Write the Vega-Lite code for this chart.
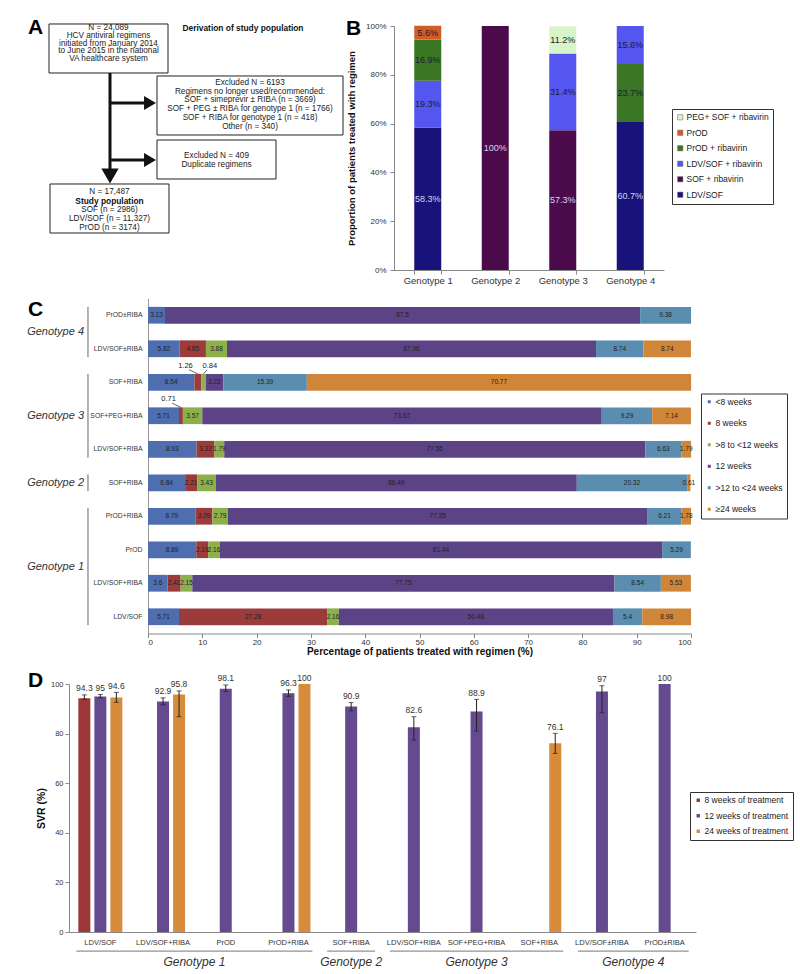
{
  "$schema": "https://vega.github.io/schema/vega-lite/v6.json",
  "background": "white",
  "padding": {"left": 27, "top": 17, "right": 5, "bottom": 5},
  "spacing": 13.5,
  "columns": 1,
  "align": "none",
  "resolve": {"scale": {"color": "independent"}, "legend": {"color": "independent"}},
  "config": {
    "font": "Liberation Sans",
    "view": {"stroke": null},
    "axis": {"grid": false, "labelColor": "#333", "titleColor": "#111", "domainColor": "#888", "tickColor": "#888"},
    "legend": {"labelColor": "#222", "strokeColor": "#333", "fillColor": "white", "symbolType": "square", "labelOffset": 3}
  },
  "datasets": {
    "boxes": [
      {"x0": 0, "x1": 40.07, "y0": -0.82, "y1": 19.26},
      {"x0": 36.36, "x1": 98.99, "y0": 20.49, "y1": 44.67},
      {"x0": 36.36, "x1": 76.43, "y0": 46.72, "y1": 62.7},
      {"x0": 0.34, "x1": 40.4, "y0": 64.75, "y1": 84.84}
    ],
    "atext": [
      {"t": "N = 24,089", "x": 20.03, "y": 0.7},
      {"t": "HCV antiviral regimens", "x": 20.03, "y": 3.9},
      {"t": "initiated from January 2014", "x": 20.03, "y": 7.2},
      {"t": "to June 2015 in the national", "x": 20.03, "y": 10.3},
      {"t": "VA healthcare system", "x": 20.03, "y": 13.4},
      {"t": "Derivation of study population", "x": 65.32, "y": 0.82},
      {"t": "Excluded N = 6193", "x": 67.68, "y": 23.24},
      {"t": "Regimens no longer used/recommended:", "x": 67.68, "y": 26.93},
      {"t": "SOF + simeprevir ± RIBA (n = 3669)", "x": 67.68, "y": 30.45},
      {"t": "SOF + PEG ± RIBA for genotype 1 (n = 1766)", "x": 67.68, "y": 33.89},
      {"t": "SOF + RIBA for genotype 1 (n = 418)", "x": 67.68, "y": 37.58},
      {"t": "Other (n = 340)", "x": 67.68, "y": 41.39},
      {"t": "Excluded N = 409", "x": 56.4, "y": 53.28},
      {"t": "Duplicate regimens", "x": 56.4, "y": 56.97},
      {"t": "N = 17,487", "x": 20.37, "y": 68.03},
      {"t": "Study population", "x": 20.37, "y": 71.72},
      {"t": "SOF (n = 2986)", "x": 20.37, "y": 75.41},
      {"t": "LDV/SOF (n = 11,327)", "x": 20.37, "y": 79.1},
      {"t": "PrOD (n = 3174)", "x": 20.37, "y": 82.79}
    ],
    "shafts": [
      {"x0": 20.54, "x1": 20.54, "y0": 19.26, "y1": 59.43},
      {"x0": 20.54, "x1": 32.66, "y0": 31.56, "y1": 31.56},
      {"x0": 20.54, "x1": 32.66, "y0": 54.92, "y1": 54.92}
    ],
    "heads": [
      {"dir": "down", "x": 20.54, "y": 61.48},
      {"dir": "right", "x": 34.01, "y": 31.56},
      {"dir": "right", "x": 34.01, "y": 54.92}
    ],
    "letters": [
      {"t": "A", "x": -7.07, "y": 0.9},
      {"t": "B", "x": 100.0, "y": 1.23}
    ],
    "regB": [
      {"geno": "Genotype 1", "reg": "LDV/SOF", "p": 58.3},
      {"geno": "Genotype 1", "reg": "LDV/SOF + ribavirin", "p": 19.3},
      {"geno": "Genotype 1", "reg": "PrOD + ribavirin", "p": 16.9},
      {"geno": "Genotype 1", "reg": "PrOD", "p": 5.6},
      {"geno": "Genotype 2", "reg": "SOF + ribavirin", "p": 100},
      {"geno": "Genotype 3", "reg": "SOF + ribavirin", "p": 57.3},
      {"geno": "Genotype 3", "reg": "LDV/SOF + ribavirin", "p": 31.4},
      {"geno": "Genotype 3", "reg": "PEG+ SOF + ribavirin", "p": 11.2},
      {"geno": "Genotype 4", "reg": "LDV/SOF", "p": 60.7},
      {"geno": "Genotype 4", "reg": "PrOD + ribavirin", "p": 23.7},
      {"geno": "Genotype 4", "reg": "LDV/SOF + ribavirin", "p": 15.6}
    ],
    "dur": [
      {"geno": "Genotype 4", "reg": "PrOD±RIBA", "row": 1, "dur": "<8 weeks", "v": 3.13},
      {"geno": "Genotype 4", "reg": "PrOD±RIBA", "row": 1, "dur": "12 weeks", "v": 87.5},
      {"geno": "Genotype 4", "reg": "PrOD±RIBA", "row": 1, "dur": ">12 to <24 weeks", "v": 9.38},
      {"geno": "Genotype 4", "reg": "LDV/SOF±RIBA", "row": 2, "dur": "<8 weeks", "v": 5.82},
      {"geno": "Genotype 4", "reg": "LDV/SOF±RIBA", "row": 2, "dur": "8 weeks", "v": 4.85},
      {"geno": "Genotype 4", "reg": "LDV/SOF±RIBA", "row": 2, "dur": ">8 to <12 weeks", "v": 3.88},
      {"geno": "Genotype 4", "reg": "LDV/SOF±RIBA", "row": 2, "dur": "12 weeks", "v": 67.96},
      {"geno": "Genotype 4", "reg": "LDV/SOF±RIBA", "row": 2, "dur": ">12 to <24 weeks", "v": 8.74},
      {"geno": "Genotype 4", "reg": "LDV/SOF±RIBA", "row": 2, "dur": "≥24 weeks", "v": 8.74},
      {"geno": "Genotype 3", "reg": "SOF+RIBA", "row": 3, "dur": "<8 weeks", "v": 8.54},
      {"geno": "Genotype 3", "reg": "SOF+RIBA", "row": 3, "dur": "8 weeks", "v": 1.26},
      {"geno": "Genotype 3", "reg": "SOF+RIBA", "row": 3, "dur": ">8 to <12 weeks", "v": 0.84},
      {"geno": "Genotype 3", "reg": "SOF+RIBA", "row": 3, "dur": "12 weeks", "v": 3.22},
      {"geno": "Genotype 3", "reg": "SOF+RIBA", "row": 3, "dur": ">12 to <24 weeks", "v": 15.39},
      {"geno": "Genotype 3", "reg": "SOF+RIBA", "row": 3, "dur": "≥24 weeks", "v": 70.77},
      {"geno": "Genotype 3", "reg": "SOF+PEG+RIBA", "row": 4, "dur": "<8 weeks", "v": 5.71},
      {"geno": "Genotype 3", "reg": "SOF+PEG+RIBA", "row": 4, "dur": "8 weeks", "v": 0.71},
      {"geno": "Genotype 3", "reg": "SOF+PEG+RIBA", "row": 4, "dur": ">8 to <12 weeks", "v": 3.57},
      {"geno": "Genotype 3", "reg": "SOF+PEG+RIBA", "row": 4, "dur": "12 weeks", "v": 73.57},
      {"geno": "Genotype 3", "reg": "SOF+PEG+RIBA", "row": 4, "dur": ">12 to <24 weeks", "v": 9.29},
      {"geno": "Genotype 3", "reg": "SOF+PEG+RIBA", "row": 4, "dur": "≥24 weeks", "v": 7.14},
      {"geno": "Genotype 3", "reg": "LDV/SOF+RIBA", "row": 5, "dur": "<8 weeks", "v": 8.93},
      {"geno": "Genotype 3", "reg": "LDV/SOF+RIBA", "row": 5, "dur": "8 weeks", "v": 3.32},
      {"geno": "Genotype 3", "reg": "LDV/SOF+RIBA", "row": 5, "dur": ">8 to <12 weeks", "v": 1.79},
      {"geno": "Genotype 3", "reg": "LDV/SOF+RIBA", "row": 5, "dur": "12 weeks", "v": 77.55},
      {"geno": "Genotype 3", "reg": "LDV/SOF+RIBA", "row": 5, "dur": ">12 to <24 weeks", "v": 6.63},
      {"geno": "Genotype 3", "reg": "LDV/SOF+RIBA", "row": 5, "dur": "≥24 weeks", "v": 1.79},
      {"geno": "Genotype 2", "reg": "SOF+RIBA", "row": 6, "dur": "<8 weeks", "v": 6.84},
      {"geno": "Genotype 2", "reg": "SOF+RIBA", "row": 6, "dur": "8 weeks", "v": 2.21},
      {"geno": "Genotype 2", "reg": "SOF+RIBA", "row": 6, "dur": ">8 to <12 weeks", "v": 3.43},
      {"geno": "Genotype 2", "reg": "SOF+RIBA", "row": 6, "dur": "12 weeks", "v": 66.49},
      {"geno": "Genotype 2", "reg": "SOF+RIBA", "row": 6, "dur": ">12 to <24 weeks", "v": 20.32},
      {"geno": "Genotype 2", "reg": "SOF+RIBA", "row": 6, "dur": "≥24 weeks", "v": 0.61},
      {"geno": "Genotype 1", "reg": "PrOD+RIBA", "row": 7, "dur": "<8 weeks", "v": 8.79},
      {"geno": "Genotype 1", "reg": "PrOD+RIBA", "row": 7, "dur": "8 weeks", "v": 3.09},
      {"geno": "Genotype 1", "reg": "PrOD+RIBA", "row": 7, "dur": ">8 to <12 weeks", "v": 2.79},
      {"geno": "Genotype 1", "reg": "PrOD+RIBA", "row": 7, "dur": "12 weeks", "v": 77.35},
      {"geno": "Genotype 1", "reg": "PrOD+RIBA", "row": 7, "dur": ">12 to <24 weeks", "v": 6.21},
      {"geno": "Genotype 1", "reg": "PrOD+RIBA", "row": 7, "dur": "≥24 weeks", "v": 1.78},
      {"geno": "Genotype 1", "reg": "PrOD", "row": 8, "dur": "<8 weeks", "v": 8.89},
      {"geno": "Genotype 1", "reg": "PrOD", "row": 8, "dur": "8 weeks", "v": 2.19},
      {"geno": "Genotype 1", "reg": "PrOD", "row": 8, "dur": ">8 to <12 weeks", "v": 2.16},
      {"geno": "Genotype 1", "reg": "PrOD", "row": 8, "dur": "12 weeks", "v": 81.44},
      {"geno": "Genotype 1", "reg": "PrOD", "row": 8, "dur": ">12 to <24 weeks", "v": 5.29},
      {"geno": "Genotype 1", "reg": "LDV/SOF+RIBA", "row": 9, "dur": "<8 weeks", "v": 3.6},
      {"geno": "Genotype 1", "reg": "LDV/SOF+RIBA", "row": 9, "dur": "8 weeks", "v": 2.41},
      {"geno": "Genotype 1", "reg": "LDV/SOF+RIBA", "row": 9, "dur": ">8 to <12 weeks", "v": 2.15},
      {"geno": "Genotype 1", "reg": "LDV/SOF+RIBA", "row": 9, "dur": "12 weeks", "v": 77.75},
      {"geno": "Genotype 1", "reg": "LDV/SOF+RIBA", "row": 9, "dur": ">12 to <24 weeks", "v": 8.54},
      {"geno": "Genotype 1", "reg": "LDV/SOF+RIBA", "row": 9, "dur": "≥24 weeks", "v": 5.53},
      {"geno": "Genotype 1", "reg": "LDV/SOF", "row": 10, "dur": "<8 weeks", "v": 5.71},
      {"geno": "Genotype 1", "reg": "LDV/SOF", "row": 10, "dur": "8 weeks", "v": 27.28},
      {"geno": "Genotype 1", "reg": "LDV/SOF", "row": 10, "dur": ">8 to <12 weeks", "v": 2.16},
      {"geno": "Genotype 1", "reg": "LDV/SOF", "row": 10, "dur": "12 weeks", "v": 50.48},
      {"geno": "Genotype 1", "reg": "LDV/SOF", "row": 10, "dur": ">12 to <24 weeks", "v": 5.4},
      {"geno": "Genotype 1", "reg": "LDV/SOF", "row": 10, "dur": "≥24 weeks", "v": 8.98}
    ],
    "svr": [
      {"geno": "Genotype 1", "reg": "LDV/SOF", "col": 1, "dur": "8 weeks of treatment", "svr": 94.3, "lo": 93.8, "hi": 95.6},
      {"geno": "Genotype 1", "reg": "LDV/SOF", "col": 1, "dur": "12 weeks of treatment", "svr": 95, "lo": 94.4, "hi": 95.8},
      {"geno": "Genotype 1", "reg": "LDV/SOF", "col": 1, "dur": "24 weeks of treatment", "svr": 94.6, "lo": 92.6, "hi": 96.6},
      {"geno": "Genotype 1", "reg": "LDV/SOF+RIBA", "col": 2, "dur": "12 weeks of treatment", "svr": 92.9, "lo": 91.6, "hi": 94.4},
      {"geno": "Genotype 1", "reg": "LDV/SOF+RIBA", "col": 2, "dur": "24 weeks of treatment", "svr": 95.8, "lo": 86.8, "hi": 97.2},
      {"geno": "Genotype 1", "reg": "PrOD", "col": 3, "dur": "12 weeks of treatment", "svr": 98.1, "lo": 96.9, "hi": 99.6},
      {"geno": "Genotype 1", "reg": "PrOD+RIBA", "col": 4, "dur": "12 weeks of treatment", "svr": 96.3, "lo": 95.0, "hi": 97.6},
      {"geno": "Genotype 1", "reg": "PrOD+RIBA", "col": 4, "dur": "24 weeks of treatment", "svr": 100, "lo": null, "hi": null},
      {"geno": "Genotype 2", "reg": "SOF+RIBA", "col": 5, "dur": "12 weeks of treatment", "svr": 90.9, "lo": 89.2, "hi": 92.5},
      {"geno": "Genotype 3", "reg": "LDV/SOF+RIBA", "col": 6, "dur": "12 weeks of treatment", "svr": 82.6, "lo": 77.4, "hi": 86.8},
      {"geno": "Genotype 3", "reg": "SOF+PEG+RIBA", "col": 7, "dur": "12 weeks of treatment", "svr": 88.9, "lo": 81.0, "hi": 93.8},
      {"geno": "Genotype 3", "reg": "SOF+RIBA", "col": 8, "dur": "24 weeks of treatment", "svr": 76.1, "lo": 72.0, "hi": 80.1},
      {"geno": "Genotype 4", "reg": "LDV/SOF±RIBA", "col": 9, "dur": "12 weeks of treatment", "svr": 97, "lo": 88.4, "hi": 99.3},
      {"geno": "Genotype 4", "reg": "PrOD±RIBA", "col": 10, "dur": "12 weeks of treatment", "svr": 100, "lo": null, "hi": null}
    ]
  },
  "concat": [
    {
      "hconcat": [
        {
          "width": 277,
          "height": 244,
          "layer": [
            {
              "data": {"name": "boxes"},
              "mark": {"type": "rect", "fill": "white", "stroke": "#222", "strokeWidth": 1},
              "encoding": {
                "x": {"field": "x0", "type": "quantitative", "scale": {"domain": [6.734, 100], "nice": false, "zero": false}, "axis": null},
                "x2": {"field": "x1"},
                "y": {"field": "y0", "type": "quantitative", "scale": {"domain": [0, 100], "reverse": true, "nice": false, "zero": false}, "axis": null},
                "y2": {"field": "y1"}
              }
            },
            {
              "data": {"name": "shafts"},
              "mark": {"type": "rule", "strokeWidth": 3, "color": "#111"},
              "encoding": {
                "x": {"field": "x0", "type": "quantitative"},
                "x2": {"field": "x1"},
                "y": {"field": "y0", "type": "quantitative"},
                "y2": {"field": "y1"}
              }
            },
            {
              "data": {"name": "heads"},
              "transform": [{"filter": "datum.dir == 'down'"}],
              "mark": {"type": "point", "shape": "triangle-down", "filled": true, "size": 300, "color": "#111", "opacity": 1},
              "encoding": {"x": {"field": "x", "type": "quantitative"}, "y": {"field": "y", "type": "quantitative"}}
            },
            {
              "data": {"name": "heads"},
              "transform": [{"filter": "datum.dir == 'right'"}],
              "mark": {"type": "point", "shape": "triangle-right", "filled": true, "size": 190, "color": "#111", "opacity": 1},
              "encoding": {"x": {"field": "x", "type": "quantitative"}, "y": {"field": "y", "type": "quantitative"}}
            },
            {
              "data": {"name": "atext"},
              "transform": [{"filter": {"not": {"field": "t", "oneOf": ["Study population", "Derivation of study population"]}}}],
              "mark": {"type": "text", "fontSize": 8.2, "color": "#222"},
              "encoding": {"x": {"field": "x", "type": "quantitative"}, "y": {"field": "y", "type": "quantitative"}, "text": {"field": "t"}}
            },
            {
              "data": {"name": "atext"},
              "transform": [{"filter": {"field": "t", "oneOf": ["Study population", "Derivation of study population"]}}],
              "mark": {"type": "text", "fontSize": 8.4, "fontWeight": "bold", "color": "#111"},
              "encoding": {"x": {"field": "x", "type": "quantitative"}, "y": {"field": "y", "type": "quantitative"}, "text": {"field": "t"}}
            },
            {
              "data": {"name": "letters"},
              "mark": {"type": "text", "align": "left", "fontSize": 21, "fontWeight": "bold", "color": "#000"},
              "encoding": {"x": {"field": "x", "type": "quantitative"}, "y": {"field": "y", "type": "quantitative"}, "text": {"field": "t"}}
            }
          ]
        },
        {
          "width": 270,
          "height": 244,
          "data": {"name": "regB"},
          "transform": [
            {"stack": "p", "groupby": ["geno"], "as": ["p0", "p1"]},
            {"calculate": "(datum.p0 + datum.p1) / 2", "as": "pm"},
            {"calculate": "datum.p == 100 ? '100%' : format(datum.p, '.1f') + '%'", "as": "lab"}
          ],
          "layer": [
            {
              "mark": {"type": "bar"},
              "encoding": {
                "x": {"field": "geno", "type": "nominal", "sort": null, "scale": {"paddingInner": 0.6, "paddingOuter": 0.3},
                  "axis": {"title": null, "labelAngle": 0, "labelFontSize": 9.5, "tickBand": "extent", "tickSize": 4, "labelPadding": 1}},
                "y": {"field": "p0", "type": "quantitative", "scale": {"domain": [0, 100], "nice": false},
                  "axis": {"title": "Proportion of patients treated with regimen", "titleFontSize": 9.5, "titleFontWeight": "bold", "titlePadding": 9,
                    "values": [0, 10, 20, 30, 40, 50, 60, 70, 80, 90, 100], "labelExpr": "datum.value + '%'", "labelFontSize": 8, "tickSize": 4, "labelPadding": 4}},
                "y2": {"field": "p1"},
                "color": {"field": "reg", "type": "nominal",
                  "scale": {"domain": ["PEG+ SOF + ribavirin", "PrOD", "PrOD + ribavirin", "LDV/SOF + ribavirin", "SOF + ribavirin", "LDV/SOF"],
                    "range": ["#d7f5c9", "#d35b26", "#3a7623", "#5555ef", "#4b0b4b", "#17137a"]},
                  "legend": {"orient": "none", "legendX": 278, "legendY": 83, "title": null, "padding": 4, "symbolSize": 28,
                    "symbolStrokeColor": "#666", "symbolStrokeWidth": 0.5, "labelFontSize": 8.5, "rowPadding": 6.5, "labelOffset": 2}}
              }
            },
            {
              "mark": {"type": "text", "fontSize": 9},
              "encoding": {
                "x": {"field": "geno", "type": "nominal", "sort": null},
                "y": {"field": "pm", "type": "quantitative"},
                "text": {"field": "lab"},
                "color": {"condition": {"test": "datum.reg == 'LDV/SOF' || datum.reg == 'SOF + ribavirin'", "value": "#d4d4f2"}, "value": "#1b1b33"}
              }
            }
          ]
        }
      ],
      "spacing": 48,
      "bounds": "flush",
      "resolve": {"scale": {"color": "independent"}, "legend": {"color": "independent"}}
    },
    {
      "hconcat": [
        {
          "width": 73,
          "height": 335,
          "data": {"name": "dur"},
          "transform": [
            {"aggregate": [{"op": "min", "field": "row", "as": "r0"}, {"op": "max", "field": "row", "as": "r1"}], "groupby": ["geno"]},
            {"calculate": "datum.r0 - 0.75", "as": "ya"},
            {"calculate": "datum.r1 - 0.25", "as": "yb"},
            {"calculate": "(datum.r0 + datum.r1 - 1) / 2", "as": "ym"}
          ],
          "layer": [
            {
              "mark": {"type": "text", "align": "right", "fontSize": 11, "fontStyle": "italic", "color": "#333"},
              "encoding": {
                "x": {"datum": 0.2055, "type": "quantitative", "scale": {"domain": [0, 1], "nice": false, "zero": false}, "axis": null},
                "y": {"field": "ym", "type": "quantitative", "scale": {"domain": [0, 10], "reverse": true, "nice": false, "zero": false}, "axis": null},
                "text": {"field": "geno"}
              }
            },
            {
              "mark": {"type": "rule", "color": "#666", "strokeWidth": 1},
              "encoding": {
                "x": {"datum": 0.26, "type": "quantitative"},
                "y": {"field": "ya", "type": "quantitative"},
                "y2": {"field": "yb"}
              }
            },
            {
              "transform": [{"filter": "datum.r0 == 1"}],
              "mark": {"type": "text", "align": "left", "fontSize": 21, "fontWeight": "bold", "color": "#000"},
              "encoding": {
                "x": {"datum": -0.5616, "type": "quantitative"},
                "y": {"datum": 0.33, "type": "quantitative"},
                "text": {"value": "C"}
              }
            }
          ]
        },
        {
          "width": 543,
          "height": 335,
          "data": {"name": "dur"},
          "transform": [
            {"calculate": "datum.geno + '|' + datum.reg", "as": "key"},
            {"calculate": "indexof(['<8 weeks', '8 weeks', '>8 to <12 weeks', '12 weeks', '>12 to <24 weeks', '≥24 weeks'], datum.dur)", "as": "d"},
            {"stack": "v", "groupby": ["key"], "sort": [{"field": "d", "order": "ascending"}], "as": ["x0", "x1"]},
            {"calculate": "(datum.x0 + datum.x1) / 2", "as": "xm"}
          ],
          "layer": [
            {
              "mark": {"type": "bar"},
              "encoding": {
                "y": {"field": "key", "type": "nominal", "sort": null, "scale": {"paddingInner": 0.5, "paddingOuter": 0.25},
                  "axis": {"title": null, "labelExpr": "split(datum.label, '|')[1]", "ticks": false, "labelFontSize": 6.8, "labelPadding": 6, "domainColor": "#999"}},
                "x": {"field": "x0", "type": "quantitative", "scale": {"domain": [0, 100], "nice": false},
                  "axis": {"title": "Percentage of patients treated with regimen (%)", "titleFontSize": 10, "titleFontWeight": "bold",
                    "values": [0, 10, 20, 30, 40, 50, 60, 70, 80, 90, 100], "labelFontSize": 8, "tickSize": 4, "labelPadding": 1, "titlePadding": 0}},
                "x2": {"field": "x1"},
                "color": {"field": "dur", "type": "nominal",
                  "scale": {"domain": ["<8 weeks", "8 weeks", ">8 to <12 weeks", "12 weeks", ">12 to <24 weeks", "≥24 weeks"],
                    "range": ["#4e6eb0", "#9c3b3b", "#8db04c", "#5c4385", "#5b8db0", "#d08638"]},
                  "legend": {"orient": "none", "legendX": 632, "legendY": 95, "title": null, "padding": 4, "symbolSize": 9,
                    "labelFontSize": 8.5, "rowPadding": 12.5, "labelOffset": 2}}
              }
            },
            {
              "transform": [{"filter": "datum.v >= 1.5 || datum.d == 5"}],
              "mark": {"type": "text", "fontSize": 6.5, "color": "#222"},
              "encoding": {
                "y": {"field": "key", "type": "nominal", "sort": null},
                "x": {"field": "xm", "type": "quantitative"},
                "text": {"field": "v", "type": "quantitative"}
              }
            },
            {
              "transform": [{"filter": "datum.v < 1.5 && datum.d < 5"}, {"calculate": "datum.d == 1 ? datum.xm - 1.6 : datum.xm + 0.7", "as": "xl"}],
              "mark": {"type": "rule", "color": "#444", "strokeWidth": 0.8},
              "encoding": {
                "x": {"field": "xm", "type": "quantitative"},
                "x2": {"field": "xl"},
                "y": {"field": "key", "type": "nominal", "sort": null, "bandPosition": 0},
                "y2": {"field": "key", "bandPosition": -0.25}
              }
            },
            {
              "transform": [{"filter": "datum.v < 1.5 && datum.d == 1"}],
              "mark": {"type": "text", "fontSize": 7.5, "color": "#222", "align": "right", "dx": -5, "dy": -16.4},
              "encoding": {
                "y": {"field": "key", "type": "nominal", "sort": null},
                "x": {"field": "xm", "type": "quantitative"},
                "text": {"field": "v", "type": "quantitative"}
              }
            },
            {
              "transform": [{"filter": "datum.v < 1.5 && datum.d == 2"}],
              "mark": {"type": "text", "fontSize": 7.5, "color": "#222", "align": "left", "dx": -1, "dy": -16.4},
              "encoding": {
                "y": {"field": "key", "type": "nominal", "sort": null},
                "x": {"field": "xm", "type": "quantitative"},
                "text": {"field": "v", "type": "quantitative"}
              }
            }
          ]
        }
      ],
      "spacing": 6,
      "bounds": "flush"
    },
    {
      "width": 627,
      "height": 248,
      "data": {"name": "svr"},
      "transform": [
        {"calculate": "datum.geno + '|' + datum.reg", "as": "key"},
        {"calculate": "isValid(datum.hi) ? datum.hi : datum.svr", "as": "top"}
      ],
      "layer": [
        {
          "layer": [
            {
              "mark": {"type": "bar"},
              "encoding": {
                "x": {"field": "key", "type": "nominal", "sort": null, "scale": {"paddingInner": 0.234, "paddingOuter": 0.117},
                  "axis": {"title": null, "labelExpr": "split(datum.label, '|')[1]", "labelAngle": 0, "ticks": false, "labelFontSize": 7.5, "labelPadding": 6, "labelOverlap": false}},
                "xOffset": {"field": "dur", "type": "nominal",
                  "scale": {"domain": ["8 weeks of treatment", "12 weeks of treatment", "24 weeks of treatment"], "paddingInner": 0.25, "paddingOuter": 0.125}},
                "y": {"field": "svr", "type": "quantitative", "scale": {"domain": [0, 100], "nice": false},
                  "axis": {"title": "SVR (%)", "titleFontSize": 10.5, "titleFontWeight": "bold", "titlePadding": 4,
                    "values": [0, 10, 20, 30, 40, 50, 60, 70, 80, 90, 100], "labelFontSize": 7.5, "tickSize": 4}},
                "color": {"field": "dur", "type": "nominal",
                  "scale": {"domain": ["8 weeks of treatment", "12 weeks of treatment", "24 weeks of treatment"], "range": ["#9e3738", "#654a90", "#d98b3c"]},
                  "legend": {"orient": "none", "legendX": 621, "legendY": 108, "title": null, "padding": 4, "symbolSize": 12,
                    "labelFontSize": 8.5, "rowPadding": 6.5, "labelOffset": 2}}
              }
            },
            {
              "transform": [{"filter": "isValid(datum.lo)"}],
              "mark": {"type": "rule", "color": "#222", "strokeWidth": 1},
              "encoding": {
                "x": {"field": "key", "type": "nominal", "sort": null},
                "xOffset": {"field": "dur", "type": "nominal"},
                "y": {"field": "lo", "type": "quantitative"},
                "y2": {"field": "hi"}
              }
            },
            {
              "transform": [{"filter": "isValid(datum.lo)"}],
              "mark": {"type": "tick", "orient": "horizontal", "size": 5, "thickness": 1, "color": "#222"},
              "encoding": {
                "x": {"field": "key", "type": "nominal", "sort": null},
                "xOffset": {"field": "dur", "type": "nominal"},
                "y": {"field": "lo", "type": "quantitative"}
              }
            },
            {
              "transform": [{"filter": "isValid(datum.hi)"}],
              "mark": {"type": "tick", "orient": "horizontal", "size": 5, "thickness": 1, "color": "#222"},
              "encoding": {
                "x": {"field": "key", "type": "nominal", "sort": null},
                "xOffset": {"field": "dur", "type": "nominal"},
                "y": {"field": "hi", "type": "quantitative"}
              }
            },
            {
              "mark": {"type": "text", "baseline": "bottom", "dy": -1.5, "fontSize": 8.5, "color": "#333"},
              "encoding": {
                "x": {"field": "key", "type": "nominal", "sort": null},
                "xOffset": {"field": "dur", "type": "nominal"},
                "y": {"field": "top", "type": "quantitative"},
                "text": {"field": "svr", "type": "quantitative"}
              }
            }
          ]
        },
        {
          "transform": [
            {"aggregate": [{"op": "min", "field": "col", "as": "c0"}, {"op": "max", "field": "col", "as": "c1"}], "groupby": ["geno"]},
            {"calculate": "datum.c0 - 0.883", "as": "xa"},
            {"calculate": "datum.c1 - 0.117", "as": "xb"},
            {"calculate": "(datum.c0 + datum.c1 - 1) / 2", "as": "xm"}
          ],
          "layer": [
            {
              "mark": {"type": "rule", "color": "#777", "strokeWidth": 1},
              "encoding": {
                "x": {"field": "xa", "type": "quantitative", "scale": {"domain": [0, 10], "nice": false, "zero": false}, "axis": null},
                "x2": {"field": "xb"},
                "y": {"datum": -7.7, "type": "quantitative"}
              }
            },
            {
              "mark": {"type": "text", "fontSize": 12, "fontStyle": "italic", "color": "#333"},
              "encoding": {
                "x": {"field": "xm", "type": "quantitative"},
                "y": {"datum": -12.1, "type": "quantitative"},
                "text": {"field": "geno"}
              }
            },
            {
              "transform": [{"filter": "datum.c0 == 1"}],
              "mark": {"type": "text", "align": "left", "fontSize": 21, "fontWeight": "bold", "color": "#000"},
              "encoding": {
                "x": {"datum": -0.654, "type": "quantitative"},
                "y": {"datum": 101.2, "type": "quantitative"},
                "text": {"value": "D"}
              }
            }
          ]
        }
      ],
      "resolve": {"scale": {"x": "independent"}}
    }
  ]
}
